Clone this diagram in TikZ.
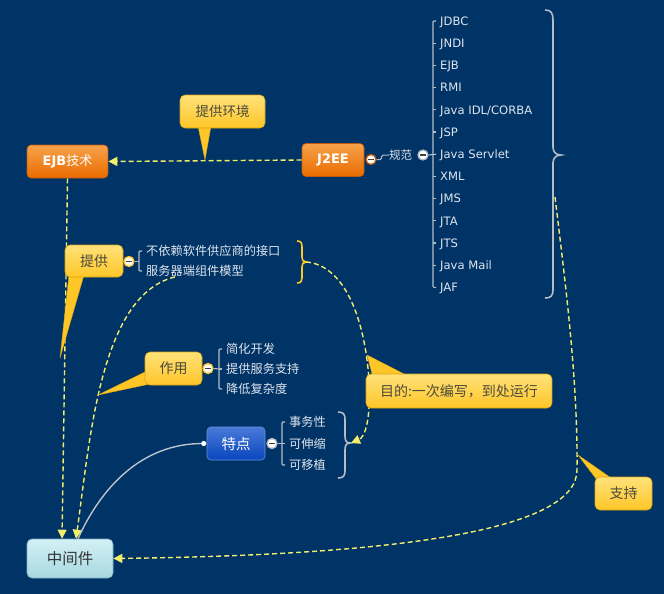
\documentclass[tikz,border=0pt]{standalone}
\usepackage{fontspec}
\setmainfont{DejaVu Sans}
\newfontfamily\cjk{Noto Sans CJK SC}
\usetikzlibrary{arrows.meta}
\definecolor{bg}{HTML}{003366}
\definecolor{orT}{HTML}{F7A24A}
\definecolor{orB}{HTML}{EA6C00}
\definecolor{orD}{HTML}{C05A10}
\definecolor{yeT}{HTML}{FFE27A}
\definecolor{yeB}{HTML}{FFC628}
\definecolor{yeD}{HTML}{D9A414}
\definecolor{blT}{HTML}{4A7AD8}
\definecolor{blB}{HTML}{0846BE}
\definecolor{blD}{HTML}{6A90E0}
\definecolor{mdT}{HTML}{D2F0F5}
\definecolor{mdB}{HTML}{A8D8E0}
\definecolor{mdD}{HTML}{7FB3C2}
\definecolor{rel}{HTML}{F2EE6C}
\definecolor{itm}{HTML}{DFE5EE}
\definecolor{brk}{HTML}{B4BCC8}
\definecolor{ctxt}{HTML}{4B4A3C}
\newcommand\cjkf[1]{\cjk\fontsize{#1}{#1}\selectfont}
\newcommand\latf[1]{\fontsize{#1}{#1}\selectfont}
\tikzset{
  orangebox/.style={rounded corners=4pt, draw=orD, line width=0.6pt, top color=orT, bottom color=orB, text=white, inner sep=0},
  yellowbox/.style={rounded corners=5pt, draw=yeD, line width=0.6pt, top color=yeT, bottom color=yeB, text=ctxt, inner sep=0},
  bluebox/.style={rounded corners=4pt, draw=blD, line width=0.6pt, top color=blT, bottom color=blB, text=white, inner sep=0},
  midbox/.style={rounded corners=5pt, draw=mdD, line width=0.6pt, top color=mdT, bottom color=mdB, text=black!80, inner sep=0},
  tail/.style={fill=yeB, draw=yeD, line width=0.4pt},
  relline/.style={draw=rel, line width=1.4pt, dash pattern=on 5pt off 3pt, -{Triangle[length=9pt,width=9pt,fill=rel]}},
  collapse/.style={circle, draw=#1, fill=white, line width=1.3pt, minimum size=10pt, inner sep=0,
     path picture={\draw[line width=1.7pt, black!75] ([xshift=-2.6pt]path picture bounding box.center) -- ([xshift=2.6pt]path picture bounding box.center);}},
  latitem/.style={anchor=west, text=itm, inner sep=0, text height=8.4pt, text depth=0pt, font=\latf{11.6}},
  cjkitem/.style={anchor=west, text=itm, inner sep=0, text height=10.2pt, text depth=1.2pt, font=\cjkf{12.2}},
  brackline/.style={draw=brk, line width=1.1pt},
}
\begin{document}
\begin{tikzpicture}[x=1pt,y=-1pt]
\fill[bg] (0,0) rectangle (664,594);
\useasboundingbox (0,0) rectangle (664,594);

% ---------- main topics ----------
\node[orangebox, minimum width=81pt, minimum height=33pt, font=\bfseries\latf{13}] (ejb) at (67.5,161.5) {EJB{\cjkf{13}\mdseries 技术}};
\node[orangebox, minimum width=62pt, minimum height=33pt, font=\bfseries\latf{13}] (j2ee) at (333,160) {J2EE};
\node[bluebox, minimum width=58pt, minimum height=33pt, font=\cjkf{14.5}] (td) at (236,443.5) {特点};
\node[midbox, minimum width=86pt, minimum height=39pt, font=\cjkf{15.5}] (mid) at (70,558.5) {中间件};

% ---------- J2EE / 规范 branch ----------
\node[collapse=orD] (cj) at (371,159.5) {};
\node[cjkitem, font=\cjkf{11.5}] (gf) at (389,155) {规范};
\node[collapse=brk] (cg) at (423,155) {};
\foreach \n/\t/\y in {l1/JDBC/21, l2/JNDI/43.2, l3/EJB/65.4, l4/RMI/87.6, l5/{Java IDL/CORBA}/109.8,
  l6/JSP/132, l7/{Java Servlet}/154.2, l8/XML/176.4, l9/JMS/198.6, l10/JTA/220.8, l11/JTS/243,
  l12/{Java Mail}/265.2, l13/JAF/287.4}
  \node[latitem] (\n) at (440,\y) {\t};
\draw[brackline, line width=1pt, rounded corners=1.5pt] (cj.east) -- ++(5,0) |- (gf.west);
\draw[brackline] (cg.east) -- ([xshift=-4pt]l7.west);
\draw[brackline, rounded corners=1pt] ([xshift=-4pt]l1.west) -- ([xshift=-7pt]l1.west) -- ([xshift=-7pt]l13.west) -- ([xshift=-4pt]l13.west);
\foreach \n in {l2,l3,l4,l5,l6,l8,l9,l10,l11,l12}
  \draw[brackline] ([xshift=-7pt]\n.west) -- ([xshift=-4pt]\n.west);
% big brace
\draw[brackline, line width=1.6pt] (545,10) .. controls (551,10) and (553,13) .. (553,20) -- (553,147)
  .. controls (553,152) and (556,155) .. (561,155) .. controls (556,155) and (553,158) .. (553,163)
  -- (553,289) .. controls (553,296) and (551,298) .. (545,298);
\coordinate (gfb) at (555,197);

% ---------- 提供 items ----------
\node[cjkitem] (fw1) at (146,251) {不依赖软件供应商的接口};
\node[cjkitem] (fw2) at (146,271) {服务器端组件模型};
\draw[brackline, rounded corners=1pt] ([xshift=-4pt]fw1.west) -- ([xshift=-7pt]fw1.west) -- ([xshift=-7pt]fw2.west) -- ([xshift=-4pt]fw2.west);
\draw[draw=yeB, line width=1.6pt] (297,241) .. controls (301,241) and (302,243) .. (302,247) -- (302,257)
  .. controls (302,260) and (303,262) .. (306,262) .. controls (303,262) and (302,264) .. (302,267)
  -- (302,278) .. controls (302,281) and (301,283) .. (297,283);
\coordinate (fwb) at (306,262);

% ---------- 作用 items ----------
\node[cjkitem] (zy1) at (226,349) {简化开发};
\node[cjkitem] (zy2) at (226,369) {提供服务支持};
\node[cjkitem] (zy3) at (226,389) {降低复杂度};
\draw[brackline, rounded corners=1pt] ([xshift=-4pt]zy1.west) -- ([xshift=-7pt]zy1.west) -- ([xshift=-7pt]zy3.west) -- ([xshift=-4pt]zy3.west);
\draw[brackline] ([xshift=-7pt]zy2.west) -- ([xshift=-4pt]zy2.west);

% ---------- 特点 items ----------
\node[collapse=brk] (ct) at (272,443.5) {};
\node[cjkitem] (td1) at (289,422) {事务性};
\node[cjkitem] (td2) at (289,443.5) {可伸缩};
\node[cjkitem] (td3) at (289,465) {可移植};
\draw[brackline, rounded corners=1pt] ([xshift=-4pt]td1.west) -- ([xshift=-7pt]td1.west) -- ([xshift=-7pt]td3.west) -- ([xshift=-4pt]td3.west);
\draw[brackline] (ct.east) -- ([xshift=-4pt]td2.west);
\draw[brackline, line width=1.6pt] (338,412) .. controls (343,412) and (345,414) .. (345,419) -- (345,436)
  .. controls (345,440) and (346,443) .. (350,443) .. controls (346,443) and (345,446) .. (345,450)
  -- (345,471) .. controls (345,476) and (343,478) .. (338,478);
\coordinate (tdb) at (351,443);

% ---------- relationships ----------
\draw[relline] (j2ee.west) -- (ejb.east);
\draw[relline] (ejb.south) -- ([xshift=-8pt]mid.north);
\draw[relline] ([xshift=-20pt]fw2.south) .. controls (100,295) and (90,440) .. ([xshift=6pt]mid.north);
\draw[relline] (fwb) .. controls (345,265) and (365,320) .. (369,380) .. controls (371,420) and (365,437) .. (tdb);
\draw[relline] (gfb) .. controls (565,280) and (578,380) .. (577,470) .. controls (577,530) and (400,555) .. (mid.east);
\draw[draw=brk!90, line width=1.4pt] ([xshift=-3pt]td.west) .. controls (140,443) and (100,490) .. ([xshift=8pt]mid.north);
\fill[white] ([xshift=-3pt]td.west) circle (2.6);

% ---------- callouts ----------
\draw[tail] (198,126) -- (205,160) -- (211,126) -- cycle;
\draw[tail] (69,275) -- (60,358) -- (84,275) -- cycle;
\draw[tail] (147,371) -- (98,395) -- (150,384) -- cycle;
\draw[tail] (373,377) -- (367,355) -- (410,377) -- cycle;
\draw[tail] (597,480) -- (578,455) -- (614,480) -- cycle;
\node[yellowbox, minimum width=85pt, minimum height=33pt, font=\cjkf{13.5}] (tghj) at (222.5,111.5) {提供环境};
\node[yellowbox, minimum width=58pt, minimum height=32pt, font=\cjkf{14}] (tg) at (94,261) {提供};
\node[yellowbox, minimum width=57pt, minimum height=33pt, font=\cjkf{14}] (zy) at (173.5,368.5) {作用};
\node[yellowbox, minimum width=186pt, minimum height=34pt, font=\cjkf{14}] (md) at (459,391) {目的:一次编写，到处运行};
\node[yellowbox, minimum width=57pt, minimum height=33pt, font=\cjkf{14}] (zc) at (623.5,493.5) {支持};
\node[collapse=yeB] (cf) at (129,261.5) {};
\node[collapse=yeB] (cz) at (208,368.5) {};
\draw[brackline] (cf.east) -- ([xshift=-7pt]fw1.west |- cf.east);
\draw[brackline] (cz.east) -- ([xshift=-7pt]zy2.west);
\end{tikzpicture}
\end{document}
